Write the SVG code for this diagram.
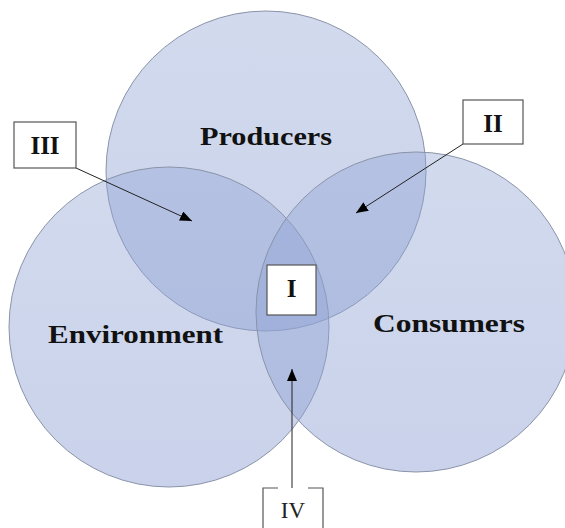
<svg xmlns="http://www.w3.org/2000/svg" width="565" height="528" viewBox="0 0 565 528">
  <style>
    .set { stroke: #8a93a8; stroke-width: 1; fill: url(#setFill); }
    .title { font-family: "Liberation Serif", "Times New Roman", serif; font-weight: bold; font-size: 26px; fill: #111; text-anchor: middle; }
    .tag { font-family: "Liberation Serif", "Times New Roman", serif; font-weight: bold; font-size: 25px; fill: #111; text-anchor: middle; }
    .tag-plain { font-family: "Liberation Serif", "Times New Roman", serif; font-size: 23px; fill: #222; text-anchor: middle; }
    .box { fill: #ffffff; stroke: #555; stroke-width: 1.2; }
    .lead { stroke: #222; stroke-width: 1; fill: none; marker-end: url(#tip); }
  </style>
  <defs>
    <linearGradient id="setFill" x1="0" y1="0" x2="0" y2="1">
      <stop offset="0" stop-color="#8fa2d4" stop-opacity="0.40"/>
      <stop offset="1" stop-color="#8fa2d4" stop-opacity="0.48"/>
    </linearGradient>
    <marker id="tip" viewBox="0 0 12 10" refX="12" refY="5" markerWidth="12" markerHeight="10" markerUnits="userSpaceOnUse" orient="auto">
      <path d="M0,0 L12,5 L0,10 Z" fill="#000"/>
    </marker>
  </defs>

  <!-- three overlapping sets -->
  <g id="producers">
    <circle class="set" cx="266" cy="171" r="160"/>
  </g>
  <g id="environment">
    <circle class="set" cx="169" cy="327" r="160"/>
  </g>
  <g id="consumers">
    <circle class="set" cx="416" cy="312" r="160"/>
  </g>

  <text class="title" x="266" y="145" textLength="132" lengthAdjust="spacingAndGlyphs">Producers</text>
  <text class="title" x="135.5" y="343" textLength="175" lengthAdjust="spacingAndGlyphs">Environment</text>
  <text class="title" x="449" y="332" textLength="152" lengthAdjust="spacingAndGlyphs">Consumers</text>

  <!-- leader arrows from region tags -->
  <g id="connectors">
    <line class="lead" x1="76" y1="168" x2="192" y2="221"/>
    <line class="lead" x1="463" y1="144" x2="356" y2="213"/>
    <line class="lead" x1="292" y1="488" x2="292" y2="369"/>
  </g>

  <g id="tag-III">
    <rect class="box" x="14" y="122" width="62" height="46"/>
    <text class="tag" x="45" y="154">III</text>
  </g>
  <g id="tag-II">
    <rect class="box" x="463" y="100" width="60" height="44"/>
    <text class="tag" x="493" y="132">II</text>
  </g>
  <g id="tag-I">
    <rect class="box" x="267" y="265" width="49" height="50"/>
    <text class="tag" x="291.5" y="297">I</text>
  </g>
  <g id="tag-IV">
    <path d="M278,488 H263 V528 M308,488 H323 V528" fill="none" stroke="#555" stroke-width="1.2"/>
    <text class="tag-plain" x="293" y="518">IV</text>
  </g>
</svg>
